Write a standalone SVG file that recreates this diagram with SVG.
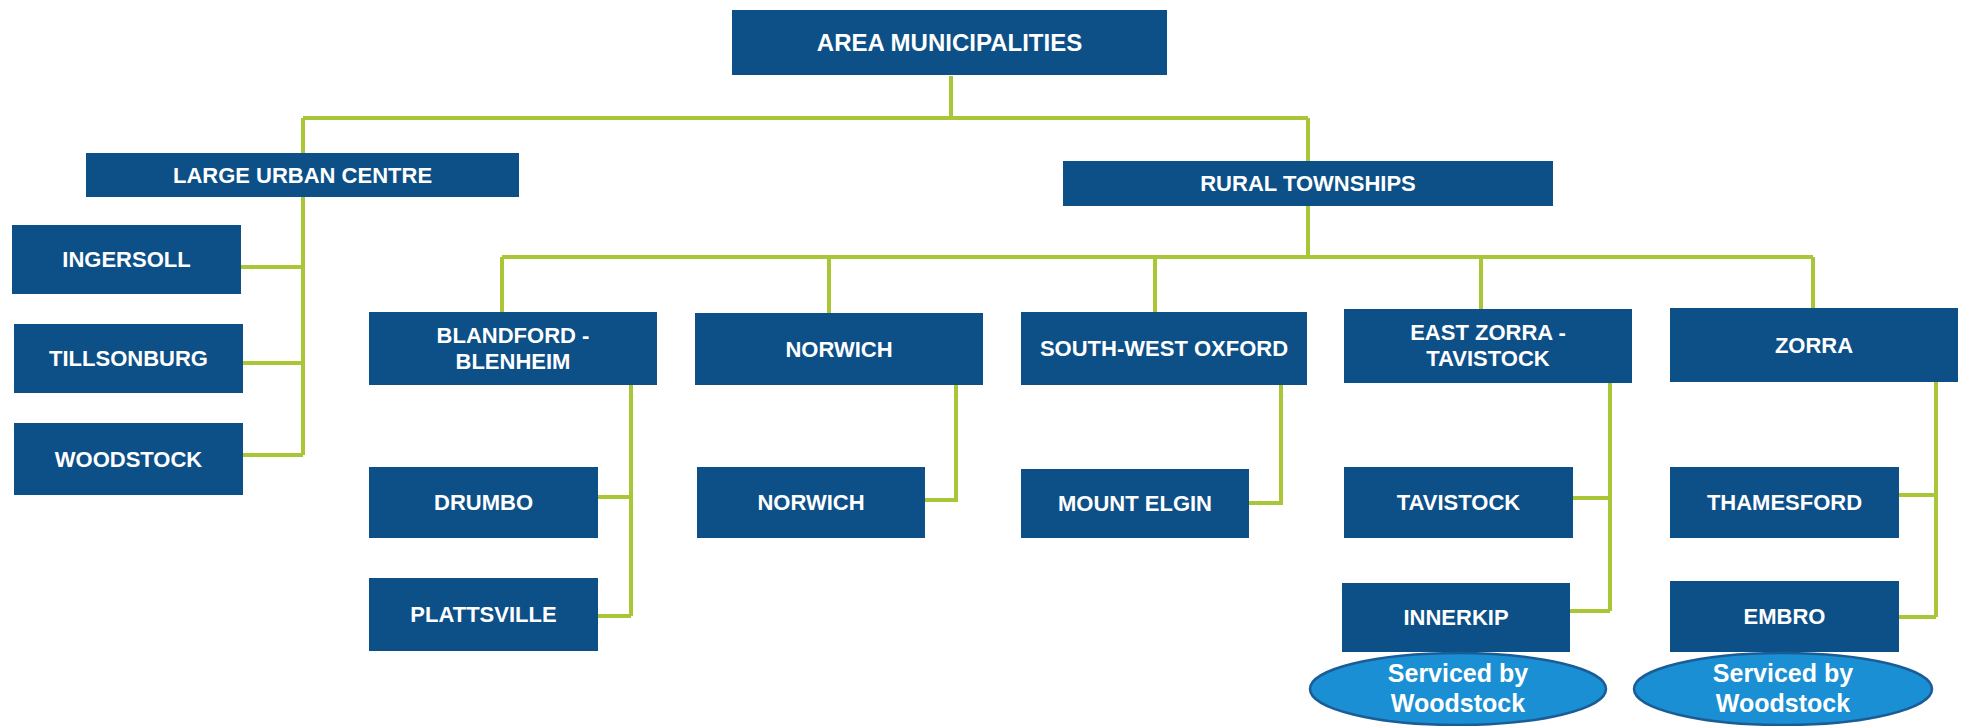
<svg xmlns="http://www.w3.org/2000/svg" width="1963" height="726" viewBox="0 0 1963 726">
<style>
.box{fill:#0d4f87;}
.t{font-family:"Liberation Sans",Arial,sans-serif;font-weight:bold;font-size:22px;fill:#ffffff;text-anchor:middle;}
.big{font-size:24px;}
.ov{fill:#1b8fd3;stroke:#1a5d96;stroke-width:2.5;}
.ot{font-family:"Liberation Sans",Arial,sans-serif;font-weight:bold;font-size:25px;fill:#ffffff;text-anchor:middle;}
.c{fill:none;stroke:#a9c637;stroke-width:4;}
</style>
<rect width="1963" height="726" fill="#ffffff"/>
<g id="connectors" class="c">
<path d="M951 76V118M303 118H1308M303 118V153M303 197V455M1308 118V161"/>
<path d="M241 267H303M243 363H303M243 455H303"/>
<path d="M1308 206V257M502 257H1813M502 257V312M829 257V313M1155 257V312M1481 257V309M1813 257V308"/>
<path d="M631 385V616M598 497H631M598 616H631"/>
<path d="M956 385V500H925"/>
<path d="M1281 385V503H1249"/>
<path d="M1610 383V611M1573 498H1610M1570 611H1610"/>
<path d="M1936 382V617M1899 495H1936M1899 617H1936"/>
</g>
<g id="area"><rect class="box" x="732" y="10" width="435" height="65"/><text class="t big" x="949.5" y="51">AREA MUNICIPALITIES</text></g>
<g id="large-urban"><rect class="box" x="86" y="153" width="433" height="44"/><text class="t" x="302.5" y="183">LARGE URBAN CENTRE</text></g>
<g id="rural"><rect class="box" x="1063" y="161" width="490" height="45"/><text class="t" x="1308" y="191">RURAL TOWNSHIPS</text></g>
<g id="ingersoll"><rect class="box" x="12" y="225" width="229" height="69"/><text class="t" x="126.5" y="267">INGERSOLL</text></g>
<g id="tillsonburg"><rect class="box" x="14" y="324" width="229" height="69"/><text class="t" x="128.5" y="366">TILLSONBURG</text></g>
<g id="woodstock"><rect class="box" x="14" y="423" width="229" height="72"/><text class="t" x="128.5" y="467">WOODSTOCK</text></g>
<g id="blandford"><rect class="box" x="369" y="312" width="288" height="73"/><text class="t" x="513" y="343">BLANDFORD -</text><text class="t" x="513" y="369">BLENHEIM</text></g>
<g id="norwich-twp"><rect class="box" x="695" y="313" width="288" height="72"/><text class="t" x="839" y="357">NORWICH</text></g>
<g id="sw-oxford"><rect class="box" x="1021" y="312" width="286" height="73"/><text class="t" x="1164" y="356">SOUTH-WEST OXFORD</text></g>
<g id="east-zorra"><rect class="box" x="1344" y="309" width="288" height="74"/><text class="t" x="1488" y="340">EAST ZORRA -</text><text class="t" x="1488" y="366">TAVISTOCK</text></g>
<g id="zorra"><rect class="box" x="1670" y="308" width="288" height="74"/><text class="t" x="1814" y="353">ZORRA</text></g>
<g id="drumbo"><rect class="box" x="369" y="467" width="229" height="71"/><text class="t" x="483.5" y="510">DRUMBO</text></g>
<g id="plattsville"><rect class="box" x="369" y="578" width="229" height="73"/><text class="t" x="483.5" y="622">PLATTSVILLE</text></g>
<g id="norwich"><rect class="box" x="697" y="467" width="228" height="71"/><text class="t" x="811" y="510">NORWICH</text></g>
<g id="mount-elgin"><rect class="box" x="1021" y="469" width="228" height="69"/><text class="t" x="1135" y="511">MOUNT ELGIN</text></g>
<g id="tavistock"><rect class="box" x="1344" y="467" width="229" height="71"/><text class="t" x="1458.5" y="510">TAVISTOCK</text></g>
<g id="innerkip"><rect class="box" x="1342" y="583" width="228" height="69"/><text class="t" x="1456" y="625">INNERKIP</text></g>
<g id="thamesford"><rect class="box" x="1670" y="467" width="229" height="71"/><text class="t" x="1784.5" y="510">THAMESFORD</text></g>
<g id="embro"><rect class="box" x="1670" y="581" width="229" height="71"/><text class="t" x="1784.5" y="624">EMBRO</text></g>
<g id="serviced-1"><ellipse class="ov" cx="1458" cy="689" rx="148" ry="36"/><text class="ot" x="1458" y="682">Serviced by</text><text class="ot" x="1458" y="712">Woodstock</text></g>
<g id="serviced-2"><ellipse class="ov" cx="1783" cy="689" rx="149" ry="36"/><text class="ot" x="1783" y="682">Serviced by</text><text class="ot" x="1783" y="712">Woodstock</text></g>
</svg>
